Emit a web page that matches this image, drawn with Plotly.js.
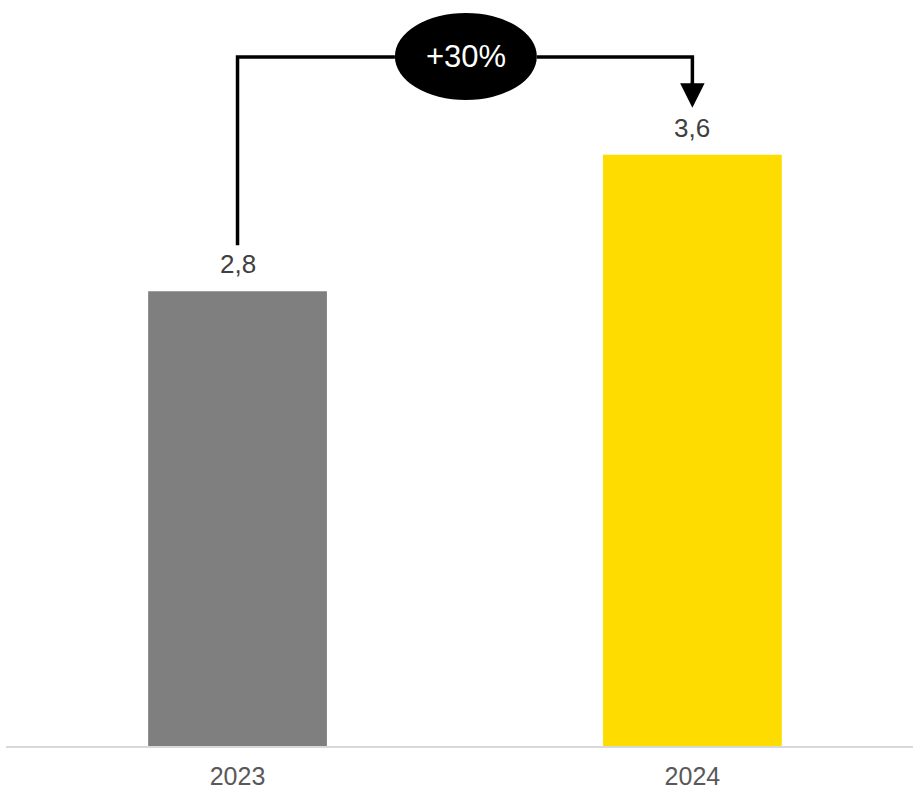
<!DOCTYPE html>
<html>
<head>
<meta charset="utf-8">
<script src="https://cdn.plot.ly/plotly-3.0.1.min.js"></script>
<style>html,body{margin:0;padding:0;background:#fff;}#chart{width:913px;height:791px;}</style>
</head>
<body>
<div id="chart"></div>
<script>
const years = ["2023", "2024"];
const values = [2.77, 3.6];
const barColors = ["#7f7f7f", "#ffdc00"];
const changeLabel = "+30%";

const fmt = v => v.toFixed(1).replace(".", ",");

const valueAnnotations = years.map((yr, i) => ({
  x: i, y: values[i], xref: "x", yref: "y",
  text: fmt(values[i]), showarrow: false,
  yanchor: "bottom", yshift: 10,
  font: {family: "Liberation Sans, Arial, sans-serif", size: 26, color: "#404040"}
}));

const yTop = 4.196;
const layout = {
  width: 913, height: 791,
  margin: {l: 6, r: 0, t: 10, b: 45},
  paper_bgcolor: "#ffffff", plot_bgcolor: "#ffffff",
  showlegend: false,
  bargap: 0.607,
  xaxis: {
    type: "category", range: [-0.509, 1.485],
    showline: true, linecolor: "#d9d9d9", linewidth: 2,
    showgrid: false, zeroline: false, ticks: "",
    ticklabelstandoff: 7,
    tickfont: {family: "Liberation Sans, Arial, sans-serif", size: 25, color: "#595959"}
  },
  yaxis: {
    range: [0, 4.482], visible: false, showgrid: false, zeroline: false
  },
  shapes: [
    {type: "path", xref: "x", yref: "y",
     path: `M 0,3.05 L 0,${yTop} L 0.346,${yTop}`,
     line: {color: "#000000", width: 3.5}},
    {type: "path", xref: "x", yref: "y",
     path: `M 0.658,${yTop} L 1,${yTop} L 1,3.98`,
     line: {color: "#000000", width: 3.5}},
    {type: "circle", xref: "x", yref: "y",
     x0: 0.346, x1: 0.658, y0: 3.934, y1: 4.464,
     fillcolor: "#000000", line: {color: "#000000", width: 0}}
  ],
  annotations: valueAnnotations.concat([
    {x: 0.502, y: yTop, xref: "x", yref: "y", text: changeLabel, showarrow: false,
     font: {family: "Liberation Sans, Arial, sans-serif", size: 31, color: "#ffffff"}},
    {x: 1, y: 3.886, xref: "x", yref: "y", ax: 1, ay: 4.05, axref: "x", ayref: "y",
     text: "", showarrow: true, arrowhead: 2, arrowsize: 1.4, arrowwidth: 3.5,
     arrowcolor: "#000000", standoff: 0}
  ])
};

const data = [{
  type: "bar", x: years, y: values,
  marker: {color: barColors},
  hoverinfo: "none"
}];

Plotly.newPlot("chart", data, layout, {displayModeBar: false, staticPlot: true});
</script>
</body>
</html>
